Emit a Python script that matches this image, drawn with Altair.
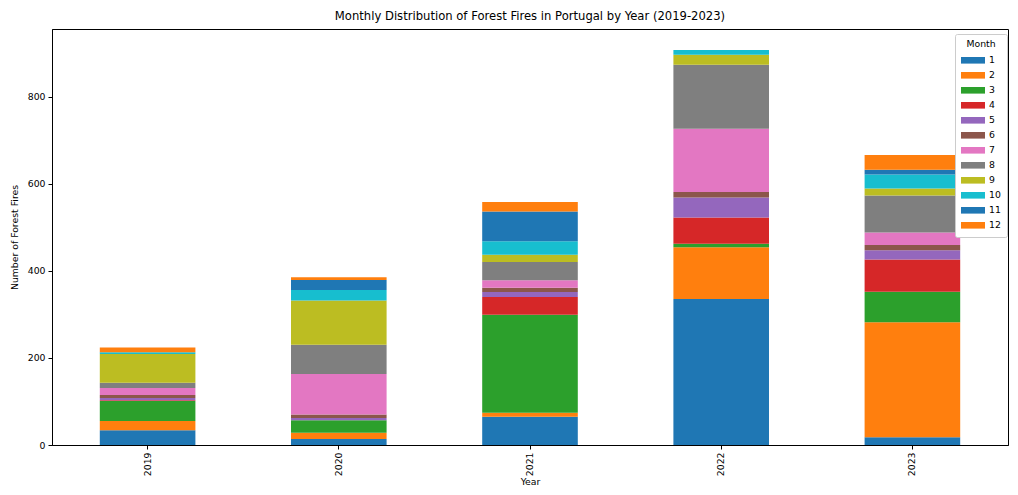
import altair as alt
import pandas as pd

years = ["2019", "2020", "2021", "2022", "2023"]
months = [str(m) for m in range(1, 13)]
# values per month (rows: month 1..12), columns: years
m01 = [34, 14, 65, 335, 18]
m02 = [21, 14, 9, 119, 264]
m03 = [46, 29, 225, 8, 70]
m04 = [2, 0, 41, 60, 74]
m05 = [5, 5, 11, 46, 21]
m06 = [7, 8, 10, 13, 12]
m07 = [16, 93, 17, 145, 29]
m08 = [12, 67, 42, 147, 85]
m09 = [66, 102, 17, 23, 16]
m10 = [4, 24, 31, 11, 32]
m11 = [0, 23, 68, 0, 11]
m12 = [11, 6, 22, 0, 34]
series = [m01, m02, m03, m04, m05, m06, m07, m08, m09, m10, m11, m12]
colors = ["#1f77b4", "#ff7f0e", "#2ca02c", "#d62728", "#9467bd", "#8c564b",
          "#e377c2", "#7f7f7f", "#bcbd22", "#17becf", "#1f77b4", "#ff7f0e"]

rows = []
for mi, vals in enumerate(series):
    for yi, y in enumerate(years):
        rows.append({"Year": y, "Month": months[mi], "m": mi + 1, "Fires": vals[yi]})
df = pd.DataFrame(rows)

FS = 9.3

chart = alt.Chart(df).mark_bar().encode(
    x=alt.X("Year:N", sort=years,
            scale=alt.Scale(paddingInner=0.5, paddingOuter=0.25),
            axis=alt.Axis(title="Year", labelAngle=270, labelFontSize=FS,
                          titleFontSize=FS, titleFontWeight="normal",
                          labelColor="#000", titleColor="#000",
                          tickColor="#000", domainColor="#000", tickSize=4,
                          labelPadding=3, titlePadding=2)),
    y=alt.Y("Fires:Q", stack="zero",
            scale=alt.Scale(domain=[0, 955], nice=False),
            axis=alt.Axis(title="Number of Forest Fires", values=[0, 200, 400, 600, 800],
                          grid=False, labelFontSize=FS, titleFontSize=FS,
                          titleFontWeight="normal", labelColor="#000", titleColor="#000",
                          tickColor="#000", domainColor="#000", tickSize=4,
                          labelPadding=3, titlePadding=8)),
    color=alt.Color("Month:N", sort=months,
                    scale=alt.Scale(domain=months, range=colors),
                    legend=alt.Legend(title="Month", orient="none", legendX=903, legendY=5,
                                      titleAnchor="middle", titleFontSize=FS,
                                      titleFontWeight="normal", labelFontSize=FS,
                                      labelColor="#000", titleColor="#000",
                                      symbolType="M-2,-0.55L2,-0.55L2,0.55L-2,0.55Z",
                                      symbolSize=144, symbolStrokeWidth=0,
                                      symbolOffset=6, labelOffset=10,
                                      fillColor="white", strokeColor="#cccccc",
                                      padding=6, cornerRadius=2, rowPadding=3,
                                      titlePadding=5)),
    order=alt.Order("m:Q", sort="ascending"),
).properties(
    width=956, height=416,
    title=alt.TitleParams("Monthly Distribution of Forest Fires in Portugal by Year (2019-2023)",
                          fontSize=11.6, fontWeight="normal", color="#000", offset=6),
    autosize=alt.AutoSizeParams(type="none"),
    padding={"left": 44, "top": 21, "right": 2, "bottom": 42},
).configure(font="DejaVu Sans").configure_view(stroke="#000", strokeWidth=1)

chart.save("out.html", embed_options={"renderer": "svg", "actions": False})
